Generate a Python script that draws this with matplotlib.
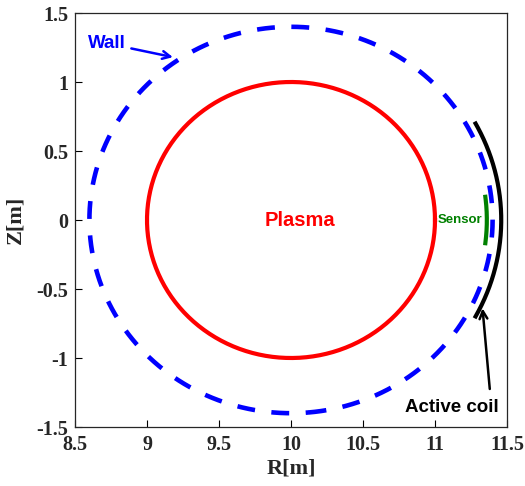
import numpy as np
import matplotlib
matplotlib.use("Agg")
import matplotlib.pyplot as plt

# geometry (centre of the torus cross-section and radii in metres)
r0, z0 = 10.0, 0.0
plasma_radius = 1.0
wall_radius = 1.4
coil_radius = 1.46
coil_span_deg = [-28.6, 28.6]
sensor_radius = 1.36
sensor_span_deg = [-7.1, 7.1]

xticks = [8.5, 9, 9.5, 10, 10.5, 11, 11.5]
yticks = [-1.5, -1, -0.5, 0, 0.5, 1, 1.5]


def arc(radius, a0, a1, n=400):
    t = np.radians(np.linspace(a0, a1, n))
    return r0 + radius * np.cos(t), z0 + radius * np.sin(t)


fig = plt.figure(figsize=(5.25, 4.86), dpi=100)
ax = fig.add_axes([75 / 525, 1 - 427 / 486, 432 / 525, 414 / 486])

x, y = arc(plasma_radius, 0, 360)
ax.plot(x, y, color="red", lw=3)

x, y = arc(wall_radius, -85, 275)
ax.plot(x, y, color="blue", lw=3.3, dashes=(3.9, 3.6), dash_capstyle="butt")

x, y = arc(coil_radius, *coil_span_deg)
ax.plot(x, y, color="black", lw=3)

x, y = arc(sensor_radius, *sensor_span_deg)
ax.plot(x, y, color="green", lw=3)

sans = ["Liberation Sans", "DejaVu Sans"]
ax.text(10.06, 0, "Plasma", color="red", fontsize=14.5, fontweight="bold",
        family=sans, ha="center", va="center")
ax.text(11.33, 0, "Sensor", color="green", fontsize=9.5, fontweight="bold",
        family=sans, ha="right", va="center")
ax.annotate("Wall", xy=(9.18, 1.18), xytext=(8.59, 1.28), color="blue",
            fontsize=13.5, fontweight="bold", family=sans, ha="left", va="center",
            arrowprops=dict(arrowstyle="->", color="blue", lw=1.8,
                            mutation_scale=14, shrinkA=2, shrinkB=0))
ax.annotate("Active coil", xy=(11.33, -0.64), xytext=(11.12, -1.36), color="black",
            fontsize=13.5, fontweight="bold", family=sans, ha="center", va="center",
            arrowprops=dict(arrowstyle="->", color="black", lw=1.8,
                            mutation_scale=14, shrinkA=0, shrinkB=0,
                            relpos=(0.9, 1.6)))

ax.set_xlim(8.5, 11.5)
ax.set_ylim(-1.5, 1.5)
ax.set_xticks(xticks)
ax.set_yticks(yticks)
ax.set_xticklabels([f"{v:g}" for v in xticks])
ax.set_yticklabels([f"{v:g}" for v in yticks])
ax.tick_params(direction="in", length=5, width=0.8, labelsize=14.5)
ax.tick_params(axis="x", pad=6)
ax.tick_params(axis="y", pad=5)
for lab in ax.get_xticklabels() + ax.get_yticklabels():
    lab.set_family("Liberation Serif")
    lab.set_fontweight("bold")
    lab.set_color("#262626")
ax.set_xlabel("R[m]", fontsize=16, fontweight="bold", family="Liberation Serif",
              color="#262626", labelpad=2)
ax.set_ylabel("Z[m]", fontsize=16, fontweight="bold", family="Liberation Serif",
              color="#262626", labelpad=8)
for s in ax.spines.values():
    s.set_linewidth(0.9)
    s.set_color("#262626")

fig.savefig("out.png", dpi=100)
